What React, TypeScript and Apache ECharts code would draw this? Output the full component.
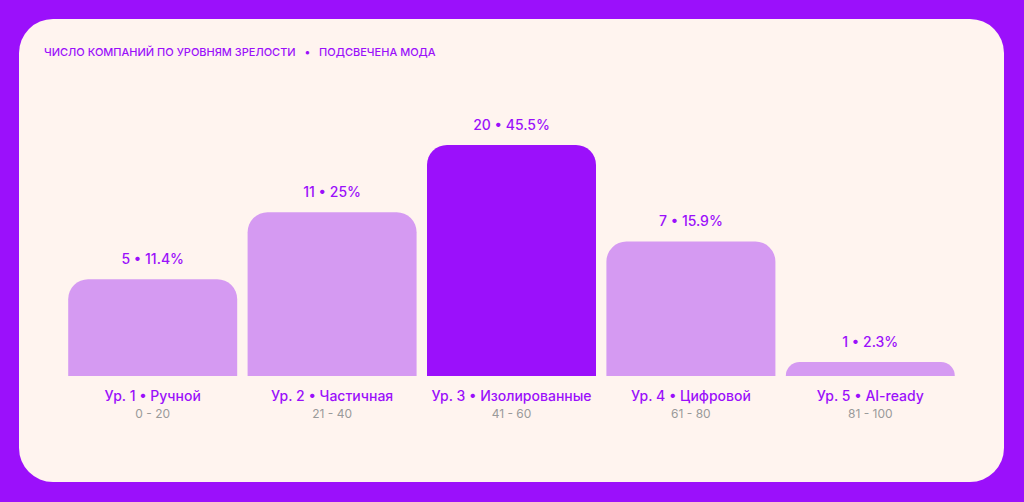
import React, { useEffect, useRef } from 'react'
import * as echarts from 'echarts'

// уровни зрелости
const levels = ['Ур. 1 • Ручной', 'Ур. 2 • Частичная', 'Ур. 3 • Изолированные', 'Ур. 4 • Цифровой', 'Ур. 5 • AI-ready']
const ranges = ['0 - 20', '21 - 40', '41 - 60', '61 - 80', '81 - 100']
const counts = [5, 11, 20, 7, 1]
const shares = ['11.4%', '25%', '45.5%', '15.9%', '2.3%']
// высота столбцов на картинке не пропорциональна числу компаний — берём как есть (% от самого высокого)
const barHeights = [41.9, 70.9, 100, 58.2, 6.05]
const modeIndex = 2

const PURPLE = '#9b10fb'
const LIGHT = '#d59af2'
const CARD = '#fff4ef'
const FONT = 'Inter, "Noto Sans", sans-serif'

export default function App() {
  const chartRef = useRef<HTMLDivElement>(null)

  useEffect(() => {
    if (!chartRef.current) return
    const chart = echarts.init(chartRef.current, null, { renderer: 'svg' })

    const option = {
      animation: false,
      textStyle: { fontFamily: FONT },
      title: {
        text: 'ЧИСЛО КОМПАНИЙ ПО УРОВНЯМ ЗРЕЛОСТИ   •   ПОДСВЕЧЕНА МОДА',
        left: 44,
        top: 46,
        padding: 0,
        textStyle: {
          color: PURPLE,
          fontSize: 11,
          fontWeight: 500,
          fontFamily: FONT
        }
      },
      grid: {
        left: 63,
        right: 64,
        top: 145,
        bottom: 126
      },
      xAxis: {
        type: 'category',
        data: levels,
        axisLine: { show: false },
        axisTick: { show: false },
        axisLabel: {
          margin: 9,
          interval: 0,
          formatter: (value: string, idx: number) => `{a|${value}}\n{b|${ranges[idx]}}`,
          rich: {
            a: { color: PURPLE, fontSize: 14, fontWeight: 500, lineHeight: 20, fontFamily: FONT },
            b: { color: '#9a9a9a', fontSize: 12, lineHeight: 16, fontFamily: FONT }
          }
        }
      },
      yAxis: {
        type: 'value',
        min: 0,
        max: 100,
        show: false
      },
      series: [
        {
          type: 'bar',
          data: barHeights.map((h, i) => ({
            value: h,
            itemStyle: { color: i === modeIndex ? PURPLE : LIGHT }
          })),
          barWidth: 169,
          itemStyle: { borderRadius: [20, 20, 0, 0] },
          label: {
            show: true,
            position: 'top',
            distance: 14,
            color: PURPLE,
            fontSize: 14,
            fontWeight: 500,
            fontFamily: FONT,
            formatter: (p: any) => `${counts[p.dataIndex]} • ${shares[p.dataIndex]}`
          }
        }
      ]
    }

    chart.setOption(option)
    return () => {
      chart.dispose()
    }
  }, [])

  return (
    <div style={{ position: 'fixed', left: 0, top: 0, width: 1024, height: 502, background: PURPLE }}>
      <div
        style={{
          position: 'absolute',
          left: 19,
          top: 19,
          width: 985,
          height: 463,
          borderRadius: 34,
          background: CARD
        }}
      />
      <div ref={chartRef} style={{ position: 'absolute', left: 0, top: 0, width: 1024, height: 502 }} />
    </div>
  )
}
